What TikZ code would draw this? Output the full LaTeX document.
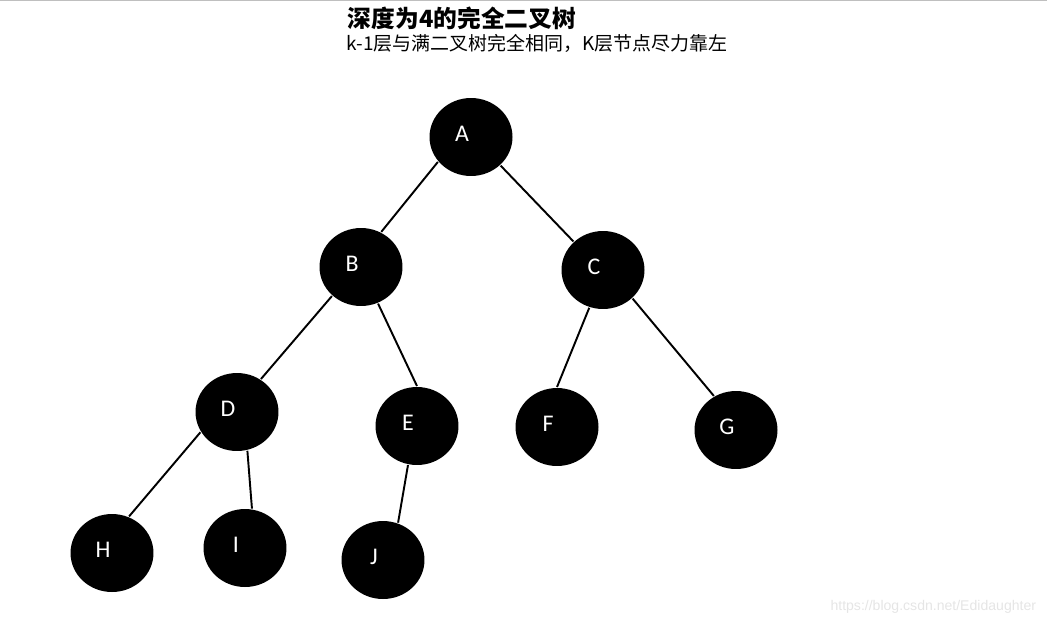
\documentclass[tikz,border=0pt]{standalone}
\usepackage{fontspec}
\setmainfont{Noto Sans CJK SC}
\newfontfamily\letterfont{Carlito}
\newfontfamily\urlfont{Liberation Sans}
\usetikzlibrary{shapes.geometric}

\begin{document}
\begin{tikzpicture}[x=0.02cm, y=-0.02cm, line width=1.1pt,
   treenode/.style={ellipse, fill=black, inner sep=0pt,
      minimum width=1.66cm, minimum height=1.56cm},
   lbl/.style={white, font=\letterfont\fontsize{13.6}{16}\selectfont,
      xshift=-0.18cm, yshift=0.06cm}]
   \useasboundingbox (0,0) rectangle (1047,625);
   \draw[line width=0.6pt, black!25] (0,0.5) -- (1047,0.5);

   % Title
   \node[anchor=west, inner sep=0pt, font=\bfseries\fontsize{13.5}{16}\selectfont] (title) at (347,18) {深度为4的完全二叉树};
   \node[anchor=west, inner sep=0pt, font=\fontsize{10.8}{13}\selectfont] (sub) at (346,43) {k-1层与满二叉树完全相同，K层节点尽力靠左};

   % Nodes of the complete binary tree
   \node[treenode, label={[lbl]center:A}] (a) at (471,137) {};
   \node[treenode, label={[lbl]center:B}] (b) at (361,267) {};
   \node[treenode, label={[lbl]center:C}] (c) at (603,270) {};
   \node[treenode, label={[lbl]center:D}] (d) at (237,412) {};
   \node[treenode, label={[lbl]center:E}] (e) at (417,426) {};
   \node[treenode, label={[lbl]center:F}] (f) at (557,427) {};
   \node[treenode, label={[lbl]center:G}] (g) at (736,430) {};
   \node[treenode, label={[lbl]center:H}] (h) at (112,553) {};
   \node[treenode, label={[lbl]center:I}] (i) at (245,548) {};
   \node[treenode, label={[lbl]center:J}] (j) at (383,560) {};

   % Edges
   \draw (a.217) -- (b.60) (a.316) -- (c.136)
         (b.225) -- (d.54) (b.295) -- (e.90)
         (c.250) -- (f.90) (c.316) -- (g.123)
         (d.209) -- (h.65) (d.285) -- (i.80)
         (e.257) -- (j.68);

   \node[anchor=east, inner sep=0pt, black!10, font=\urlfont\fontsize{8}{10}\selectfont] (mark) at (1037,607) {https://blog.csdn.net/Edidaughter};
\end{tikzpicture}
\end{document}
